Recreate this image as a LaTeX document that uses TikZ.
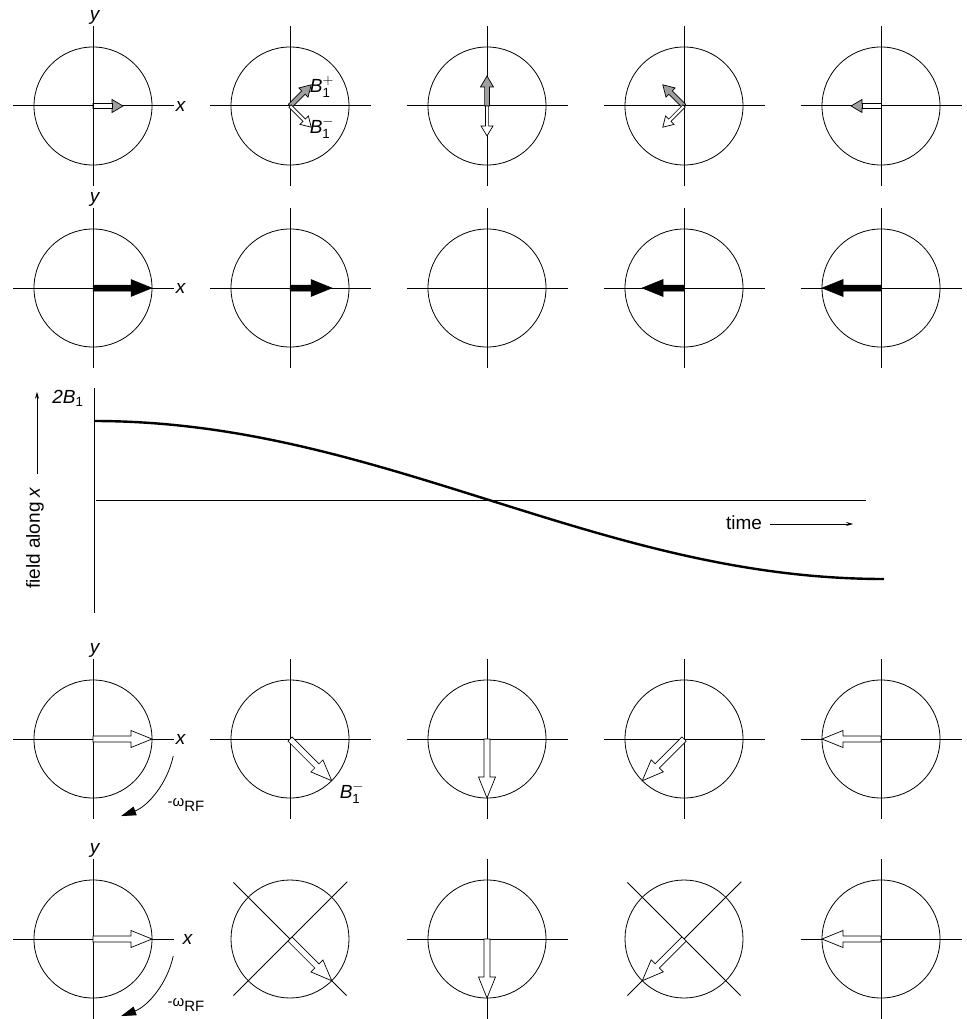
\documentclass[tikz,border=0pt]{standalone}
\usepackage{amsmath}
\usepackage{fontspec}
\setmainfont{Liberation Sans}
\usetikzlibrary{arrows.meta,calc}

\tikzset{
  axis/.style={line width=1pt},
  ring/.style={line width=0.8pt},
  curve/.style={line width=2.4pt},
  lbl/.style={font=\fontsize{19}{21}\selectfont, inner sep=0pt},
  sublbl/.style={font=\fontsize{15}{17}\selectfont, inner sep=0pt},
  openvec/.style={fill=white, draw=black, line width=0.7pt},
  grayvec/.style={fill=gray!75, draw=black, line width=0.7pt},
  solidvec/.style={fill=black, draw=black, line width=0.5pt},
}

% axes and circle: #1 centre, #2 rotation
\newcommand{\dial}[2]{%
  \begin{scope}[shift={#1}, rotate=#2]
    \draw[axis] (-80,0) -- (81,0);
    \draw[axis] (0,-80) -- (0,80);
    \draw[ring] (0,0) circle[radius=59];
  \end{scope}}

% #1 style, #2 centre, #3 angle, #4 length, #5 shaft half width, #6 head half width, #7 head length
\newcommand{\fieldvec}[7]{%
  \filldraw[#1, shift={#2}, rotate=#3]
    (0,-#5) -- ({#4-#7},-#5) -- ({#4-#7},-#6) -- (#4,0) -- ({#4-#7},#6) -- ({#4-#7},#5) -- (0,#5) -- cycle;}
\newcommand{\smallvec}[3]{\fieldvec{#1}{#2}{#3}{30}{2.4}{6.5}{11}}
\newcommand{\thinvec}[3]{\fieldvec{#1}{#2}{#3}{30}{1.6}{6}{10}}
\newcommand{\bigvec}[4]{\fieldvec{#1}{#2}{#3}{#4}{3}{8.5}{21}}
\newcommand{\openshaft}[2]{\filldraw[openvec, shift={#1}, rotate=#2] (0,-2.4) rectangle (19,2.4);}

\begin{document}
\begin{tikzpicture}[x=1pt, y=-1pt]
  \useasboundingbox (0,0) rectangle (966,1019);

  % dial centres
  \foreach \r/\yc in {1/106,2/288,4/739,5/939}
    \foreach \c/\xc in {1/93,2/290,3/487,4/684,5/881}
      \coordinate (c\r\c) at (\xc,\yc);

  \foreach \r in {1,2,4}
    \foreach \c in {1,...,5}
      \dial{(c\r\c)}{0};
  \foreach \c/\a in {1/0,2/45,3/0,4/45,5/0}
    \dial{(c5\c)}{\a};

  % axis labels
  \foreach \r in {1,2,4} {
    \node[lbl] (xlab\r) at ($(c\r1)+(88,0)$) {\textit{x}};
    \node[lbl, anchor=south] (ylab\r) at ($(c\r1)+(2,-81)$) {\textit{y}};
  }
  \node[lbl] (xlab5) at ($(c51)+(95,0)$) {\textit{x}};
  \node[lbl, anchor=south] (ylab5) at ($(c51)+(2,-81)$) {\textit{y}};

  % row 1: counter-rotating components
  \smallvec{grayvec}{(c11)}{0}
  \openshaft{(c11)}{0}
  \smallvec{grayvec}{(c12)}{45}
  \thinvec{openvec}{(c12)}{-45}
  \smallvec{grayvec}{(c13)}{90}
  \thinvec{openvec}{(c13)}{-90}
  \smallvec{grayvec}{(c14)}{135}
  \thinvec{openvec}{(c14)}{-135}
  \smallvec{grayvec}{(c15)}{180}
  \openshaft{(c15)}{180}
  \node[lbl] (bplus) at ($(c12)+(32,-19)$) {$\textit{B}^{+}_{\text{1}}$};
  \node[lbl] (bminus) at ($(c12)+(32,22)$) {$\textit{B}^{-}_{\text{1}}$};

  % row 2: resultant
  \bigvec{solidvec}{(c21)}{0}{59}
  \bigvec{solidvec}{(c22)}{0}{42}
  \bigvec{solidvec}{(c24)}{180}{42}
  \bigvec{solidvec}{(c25)}{180}{59}

  % graph
  \coordinate (gtop) at (94,388);
  \coordinate (gbot) at (94,613);
  \coordinate (gleft) at (96,500);
  \coordinate (gright) at (866,500);
  \draw[axis] (gtop) -- (gbot);
  \draw[axis] (gleft) -- (gright);
  \draw[curve] plot[domain=0:180, samples=90] ({94+\x/180*790}, {500-79*cos(\x)});
  \node[lbl] (twob) at (68,398) {\textit{2B}$_{\text{1}}$};
  \node[lbl, rotate=90] (fieldlab) at (35,538) {field along \textit{x}};
  \draw[line width=0.8pt, -{Stealth[length=7pt,width=4pt]}] ($(fieldlab.east)+(2,-13)$) -- ++(0,-82);
  \node[lbl] (timelab) at (744,523) {time};
  \draw[line width=0.8pt, -{Stealth[length=7pt,width=4pt]}] ($(timelab.east)+(8,1)$) -- ++(83,0);

  % rows 4 and 5: rotating frame
  \foreach \r in {4,5} {
    \bigvec{openvec}{(c\r1)}{0}{59}
    \bigvec{openvec}{(c\r2)}{-45}{59}
    \bigvec{openvec}{(c\r3)}{-90}{59}
    \bigvec{openvec}{(c\r4)}{-135}{59}
    \bigvec{openvec}{(c\r5)}{180}{59}
    \draw[ring, -{Triangle[length=15pt,width=9pt]}] ($(c\r1)+(12:82)$) arc[start angle=12, end angle=70, radius=82];
    \node[sublbl] (omega\r) at ($(c\r1)+(93,66)$) {-ω\raisebox{-5pt}{RF}};
  }
  \node[lbl] (bminusrot) at ($(c42)+(62,54)$) {$\textit{B}^{-}_{\text{1}}$};
\end{tikzpicture}
\end{document}
